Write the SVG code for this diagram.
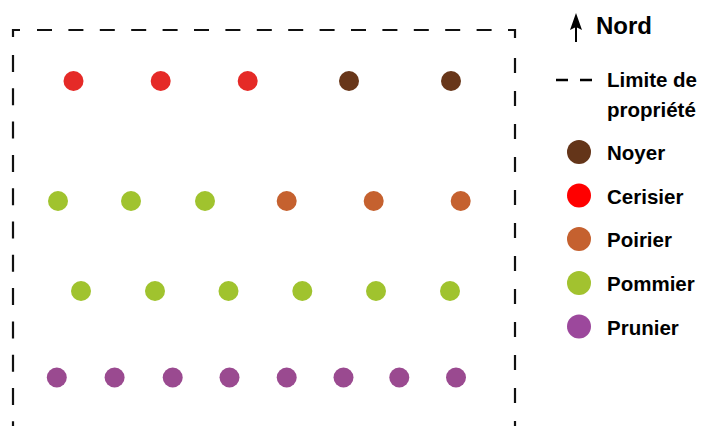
<svg xmlns="http://www.w3.org/2000/svg" width="701" height="426" viewBox="0 0 701 426">
<style>
.b{fill:none;stroke:#111;stroke-width:2.2}
.lbl{font-family:"Liberation Sans",Arial,sans-serif;font-weight:bold;font-size:20.5px;fill:#000}
.ny{fill:#683619}.ce{fill:#e52a27}.po{fill:#c5612f}.pm{fill:#a0c32e}.pr{fill:#9a4a90}
</style>
<rect width="701" height="426" fill="#fff"/>
<g id="limite">
<path class="b" d="M13,37 V30 H20 M508,30 H515 V38"/>
<line class="b" x1="37" y1="30" x2="500" y2="30" stroke-dasharray="15 16.4"/>
<line class="b" x1="13" y1="55" x2="13" y2="430" stroke-dasharray="17 16.3"/>
<line class="b" x1="515" y1="58" x2="515" y2="430" stroke-dasharray="15 18"/>
</g>
<g id="arbres">
<circle class="ce" cx="73.5" cy="81" r="10"/>
<circle class="ce" cx="160.7" cy="81" r="10"/>
<circle class="ce" cx="247.7" cy="81" r="10"/>
<circle class="ny" cx="349" cy="81" r="10"/>
<circle class="ny" cx="451" cy="81" r="10"/>
<circle class="pm" cx="58" cy="201" r="10"/>
<circle class="pm" cx="131" cy="201" r="10"/>
<circle class="pm" cx="205" cy="201" r="10"/>
<circle class="po" cx="286.7" cy="201" r="10"/>
<circle class="po" cx="373.7" cy="201" r="10"/>
<circle class="po" cx="460.7" cy="201" r="10"/>
<circle class="pm" cx="81" cy="291" r="10"/>
<circle class="pm" cx="155" cy="291" r="10"/>
<circle class="pm" cx="228.5" cy="291" r="10"/>
<circle class="pm" cx="302.3" cy="291" r="10"/>
<circle class="pm" cx="376" cy="291" r="10"/>
<circle class="pm" cx="450" cy="291" r="10"/>
<circle class="pr" cx="56.8" cy="377.5" r="10"/>
<circle class="pr" cx="114.6" cy="377.5" r="10"/>
<circle class="pr" cx="172.7" cy="377.5" r="10"/>
<circle class="pr" cx="229.5" cy="377.5" r="10"/>
<circle class="pr" cx="286.7" cy="377.5" r="10"/>
<circle class="pr" cx="343.5" cy="377.5" r="10"/>
<circle class="pr" cx="399.3" cy="377.5" r="10"/>
<circle class="pr" cx="456" cy="377.5" r="10"/>
</g>
<g id="nord">
<path d="M576,13 L582,30 L576,27 L570,30 Z" fill="#000"/>
<line x1="576" y1="27" x2="576" y2="42" stroke="#000" stroke-width="2"/>
<text class="lbl" x="596" y="34" style="font-size:24px">Nord</text>
</g>
<g id="leg-limite">
<path d="M556,80 H568 M580,80 H592" stroke="#000" stroke-width="2.5"/>
<text class="lbl" x="607" y="87">Limite de</text>
<text class="lbl" x="607" y="117">propriété</text>
</g>
<g id="leg-noyer"><circle cx="579" cy="152" r="12" fill="#643519"/><text class="lbl" x="607" y="160">Noyer</text></g>
<g id="leg-cerisier"><circle cx="579" cy="195.5" r="12" fill="#ff0000"/><text class="lbl" x="607" y="203.5">Cerisier</text></g>
<g id="leg-poirier"><circle cx="579" cy="239" r="12" fill="#c5612f"/><text class="lbl" x="607" y="247">Poirier</text></g>
<g id="leg-pommier"><circle cx="579" cy="283" r="12" fill="#a2c22f"/><text class="lbl" x="607" y="291">Pommier</text></g>
<g id="leg-prunier"><circle cx="579" cy="326.5" r="12" fill="#9c489c"/><text class="lbl" x="607" y="334.5">Prunier</text></g>
</svg>
